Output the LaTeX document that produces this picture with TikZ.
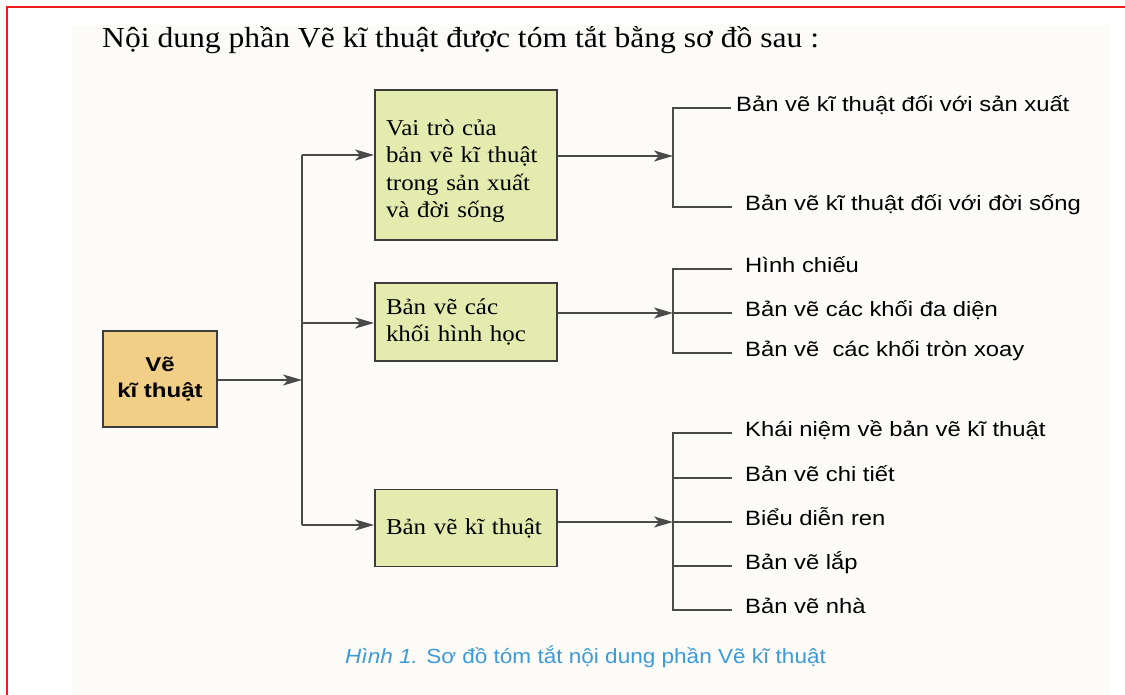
\documentclass[tikz,border=0pt]{standalone}
\usepackage{fontspec}
\usetikzlibrary{arrows.meta}
\newfontfamily\titlefont{Liberation Serif}[FakeStretch=1.09]
\newfontfamily\boxfont{Liberation Serif}[FakeStretch=1.1]
\newfontfamily\labfont{Liberation Sans}[FakeStretch=1.15]
\newfontfamily\vkfont{Liberation Sans}[FakeStretch=1.2]
\newfontfamily\capfont{Liberation Sans}[FakeStretch=1.1]
\definecolor{boxgreen}{HTML}{E3EBAF}
\definecolor{boxorange}{HTML}{F2CF87}
\definecolor{edge}{HTML}{3C3C3C}
\definecolor{wire}{HTML}{4A4A4A}
\definecolor{capblue}{HTML}{3E9AD6}
\definecolor{pagebg}{HTML}{FCFBF8}
\definecolor{frame}{HTML}{EE1C1C}
\tikzset{
  boxtxt/.style={font=\boxfont\fontsize{22.7pt}{27.3pt}\selectfont},
  greenbox/.style={draw=edge, line width=1.8pt, fill=boxgreen, rectangle,
    minimum width=182pt, inner xsep=11pt, text width=160pt, align=left, boxtxt},
  textonly/.style={inner xsep=11pt, text width=160pt, align=left, boxtxt},
  orangebox/.style={draw=edge, line width=1.8pt, fill=boxorange, rectangle,
    minimum width=114pt, minimum height=96pt, align=center,
    font=\vkfont\bfseries\fontsize{20pt}{26pt}\selectfont},
  leaf/.style={anchor=west, inner sep=0pt, text height=0.72em, text depth=0pt,
    font=\labfont\fontsize{20.7pt}{24pt}\selectfont},
  conn/.style={draw=wire, line width=2pt},
  arr/.style={conn, -{Stealth[length=19pt,width=11pt,inset=5pt]}}
}
\begin{document}
\begin{tikzpicture}[x=1pt,y=-1pt]
\useasboundingbox (0,0) rectangle (1125,695);
\fill[pagebg] (72,25) rectangle (1110,695);
\draw[frame, line width=2.2pt] (1125,7) -- (7,7) -- (7,695);

\node[anchor=base west, inner sep=0pt, font=\titlefont\fontsize{29pt}{34pt}\selectfont]
  (title) at (102,48) {Nội dung phần Vẽ kĩ thuật được tóm tắt bằng sơ đồ sau :};

\node[orangebox] (vk) at (160,379) {Vẽ\\kĩ thuật};
\node[greenbox, minimum height=150pt] (b1) at (466,165) {};
\node[textonly] (b1t) at (466,171)
  {Vai trò của\\bản vẽ kĩ thuật\\trong sản xuất\\và đời sống};
\node[greenbox, minimum height=78pt] (b2) at (466,322)
  {Bản vẽ các\\khối hình học};
\node[greenbox, minimum height=77pt] (b3) at (466,528)
  {Bản vẽ kĩ thuật};

% trunk
\coordinate (t1) at (302,155);
\coordinate (t2) at (302,323);
\coordinate (t3) at (302,525);
\coordinate (tm) at (302,380);
\draw[conn] (t1) -- (t3);
\draw[arr] (vk.east |- tm) -- (tm);
\draw[arr] (t1) -- (t1 -| b1.west);
\draw[arr] (t2) -- (t2 -| b2.west);
\draw[arr] (t3) -- (t3 -| b3.west);

% group 1
\coordinate (g1) at (673,156);
\node[leaf] (l11) at (736,108) {Bản vẽ kĩ thuật đối với sản xuất};
\node[leaf] (l12) at (745,207) {Bản vẽ kĩ thuật đối với đời sống};
\draw[arr] (b1.east |- g1) -- (g1);
\draw[conn] ([xshift=-5pt]l11.west) -| (g1) |- ([xshift=-13pt]l12.west);

% group 2
\coordinate (g2) at (673,313);
\node[leaf] (l21) at (745,269) {Hình chiếu};
\node[leaf] (l22) at (745,313) {Bản vẽ các khối đa diện};
\node[leaf] (l23) at (745,353) {Bản vẽ\ \ các khối tròn xoay};
\draw[arr] (b2.east |- g2) -- (g2);
\draw[conn] ([xshift=-13pt]l21.west) -| (g2) |- ([xshift=-13pt]l23.west);
\draw[conn] (g2) -- ([xshift=-13pt]l22.west);

% group 3
\coordinate (g3) at (673,522);
\node[leaf] (l31) at (745,433) {Khái niệm về bản vẽ kĩ thuật};
\node[leaf] (l32) at (745,478) {Bản vẽ chi tiết};
\node[leaf] (l33) at (745,522) {Biểu diễn ren};
\node[leaf] (l34) at (745,566) {Bản vẽ lắp};
\node[leaf] (l35) at (745,610) {Bản vẽ nhà};
\draw[arr] (b3.east |- g3) -- (g3);
\draw[conn] ([xshift=-13pt]l31.west) -| (g3) |- ([xshift=-13pt]l35.west);
\draw[conn] (g3) -- ([xshift=-13pt]l33.west);
\draw[conn] (l32.west -| g3) -- ([xshift=-13pt]l32.west);
\draw[conn] (l34.west -| g3) -- ([xshift=-13pt]l34.west);

\node[anchor=base west, inner sep=0pt, text=capblue,
  font=\capfont\fontsize{20.5pt}{24pt}\selectfont] (cap) at (345,663)
  {\textit{Hình 1.} Sơ đồ tóm tắt nội dung phần Vẽ kĩ thuật};
\end{tikzpicture}
\end{document}
